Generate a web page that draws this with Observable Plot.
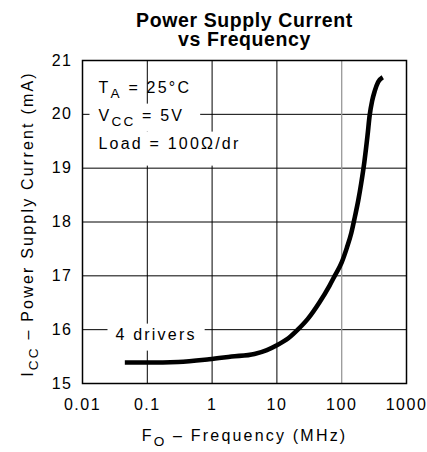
<!DOCTYPE html>
<html><head><meta charset="utf-8">
<script src="https://cdn.jsdelivr.net/npm/d3@7"></script>
<script src="https://cdn.jsdelivr.net/npm/@observablehq/plot@0.6"></script>
<style>
html,body{margin:0;padding:0;background:#fff;}
#chart svg{display:block;}
</style></head><body><div id="chart"></div>
<script>
// ---- data ----
const freqMHz   = [0.045, 0.1, 0.3, 0.9, 2, 4.5, 7, 10, 15, 21, 30, 45, 65, 78, 100, 120, 141, 160, 180, 200, 224, 250, 270, 295, 323, 365, 430];
const currentMA = [15.39, 15.39, 15.40, 15.45, 15.50, 15.55, 15.62, 15.71, 15.84, 16.00, 16.20, 16.50, 16.82, 17.00, 17.25, 17.52, 17.80, 18.10, 18.40, 18.72, 19.12, 19.60, 19.98, 20.25, 20.43, 20.60, 20.69];
const xTicks = [0.01, 0.1, 1, 10, 100, 1000];
const yTicks = [15, 16, 17, 18, 19, 20, 21];
const xGridBlack = [0.1, 1, 10];
const xGridGray = [100];
const yGrid = [16, 17, 18, 19, 20];
const conditions = ["T_{A} = 25°C", "V_{CC} = 5V", "Load = 100Ω/dr"];
const seriesLabel = ["4 drivers"];
const titleText = "Power Supply Current\nvs Frequency";
const xLabel = "F_{O} – Frequency (MHz)";
const yLabel = "I_{CC} – Power Supply Current (mA)";

const data = freqMHz.map((f, i) => ({f, c: currentMA[i]}));

const chart = Plot.plot({
  width: 427, height: 452,
  marginLeft: 82, marginRight: 21, marginTop: 60, marginBottom: 69,
  style: {fontFamily: "'Liberation Sans', Arial, sans-serif", fontSize: "16px", letterSpacing: "1.5px", color: "#000", background: "#fff"},
  x: {type: "log", domain: [0.01, 1000], ticks: xTicks, tickFormat: d => String(d), tickSize: 0, tickPadding: 15, label: null},
  y: {domain: [15, 21], ticks: yTicks, tickFormat: d => String(d), tickSize: 0, tickPadding: 10, label: null},
  marks: [
    Plot.ruleY(yGrid, {stroke: "#000", strokeWidth: 1}),
    Plot.ruleX(xGridBlack, {stroke: "#000", strokeWidth: 1}),
    Plot.ruleX(xGridGray, {stroke: "#999", strokeWidth: 1.3}),
    ...conditions.map((t, i) => Plot.text([t], {text: d => d, frameAnchor: "top-left", dx: 16, dy: 27 + 28 * i, textAnchor: "start", lineAnchor: "middle", fill: "#000"})),
    Plot.text(seriesLabel, {text: d => d, frameAnchor: "top-left", dx: 33, dy: 274, textAnchor: "start", lineAnchor: "middle", fill: "#000"}),
    Plot.frame({stroke: "#000", strokeWidth: 1.5}),
    Plot.line(data, {x: "f", y: "c", curve: "monotone-x", stroke: "#000", strokeWidth: 4.6, strokeLinecap: "butt"}),
    Plot.text([titleText], {text: d => d, frameAnchor: "top", textAnchor: "middle", dy: -47, lineAnchor: "top", lineHeight: 0.96, fontSize: 19.5, fontWeight: "bold", fill: "#000"}),
    Plot.text([xLabel], {text: d => d, frameAnchor: "bottom", textAnchor: "middle", dy: 52, lineAnchor: "middle", fill: "#000"}),
    Plot.text([yLabel], {text: d => d, frameAnchor: "left", textAnchor: "middle", dx: -55, dy: 2, rotate: -90, lineAnchor: "middle", fill: "#000"})
  ]
});
document.getElementById("chart").append(chart);

const svg = d3.select(chart);
const norm = s => s.replace(/\s/g, "");
svg.selectAll("text").filter(function(){ return norm(this.textContent) === norm(titleText); })
  .style("letter-spacing", "0.6px");

const spaced = new Set([...conditions, ...seriesLabel, xLabel, yLabel]);
svg.selectAll("text").filter(function(){ return spaced.has(this.textContent); })
  .style("letter-spacing", "2.2px");

const condNodes = svg.selectAll("text").filter(function(){ return conditions.includes(this.textContent); }).nodes()
  .sort((a, b) => conditions.indexOf(a.textContent) - conditions.indexOf(b.textContent));
const seriesNodes = svg.selectAll("text").filter(function(){ return seriesLabel.includes(this.textContent); }).nodes();

// subscripts
svg.selectAll("text").each(function(){
  const s = this.textContent;
  if (!s.includes("_{")) return;
  const el = d3.select(this);
  el.text(null);
  const parts = s.split(/(_\{[^}]*\})/).filter(p => p.length);
  let shifted = false;
  for (const p of parts) {
    const m = p.match(/^_\{([^}]*)\}$/);
    const t = el.append("tspan");
    if (m) { t.text(m[1]).attr("dy", 5).attr("font-size", "0.85em"); shifted = true; }
    else { t.text(p); if (shifted) { t.attr("dy", -5); shifted = false; } }
  }
});

// white boxes behind the annotations (gaps in the grid)
function whiteBox(node, x0, y0, x1, y1) {
  const r = document.createElementNS("http://www.w3.org/2000/svg", "rect");
  r.setAttribute("x", x0);
  r.setAttribute("y", y0);
  r.setAttribute("width", x1 - x0);
  r.setAttribute("height", y1 - y0);
  r.setAttribute("fill", "#fff");
  if (node.getAttribute("transform")) r.setAttribute("transform", node.getAttribute("transform"));
  node.parentNode.insertBefore(r, node);
}
const gTrans = n => {
  const m = n.parentNode.getCTM(); return m ? [m.e, m.f] : [0, 0];
};
if (condNodes.length === 3) {
  const bb = condNodes.map(n => n.getBBox());
  const [ox, oy] = gTrans(condNodes[0]);
  const top = 60 - oy;
  const x0 = Math.min(bb[0].x, bb[1].x) - 9;
  const x1 = Math.max(bb[0].x + bb[0].width, bb[1].x + bb[1].width) + 9;
  whiteBox(condNodes[0], x0, top + 1, x1, bb[0].y + bb[0].height + 3);
  whiteBox(condNodes[1], x0, bb[1].y - 3, x1, bb[1].y + bb[1].height + 3);
  whiteBox(condNodes[2], bb[2].x - 9, bb[2].y - 3, bb[2].x + bb[2].width + 9, bb[2].y + bb[2].height + 14);
}
for (const node of seriesNodes) {
  const b = node.getBBox();
  whiteBox(node, b.x - 8, b.y - 2, b.x + b.width + 8, b.y + b.height + 8);
}
</script></body></html>
